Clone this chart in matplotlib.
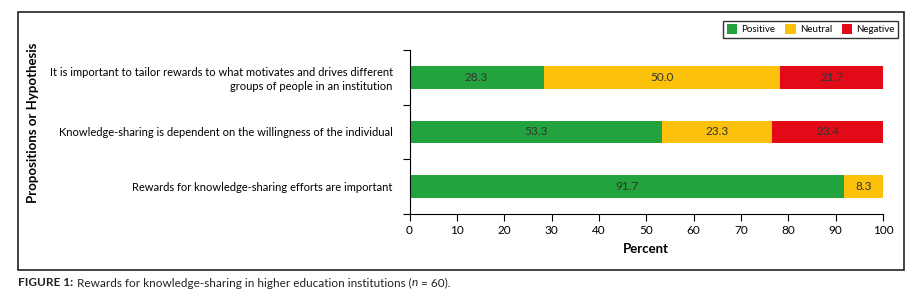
import matplotlib
matplotlib.use('Agg')
import matplotlib.pyplot as plt
from matplotlib.patches import Rectangle
import numpy as np

# data, listed top to bottom as in the chart
propositions = [
    'It is important to tailor rewards to what motivates and drives different\ngroups of people in an institution',
    'Knowledge-sharing is dependent on the willingness of the individual',
    'Rewards for knowledge-sharing efforts are important',
]
positive = [28.3, 53.3, 91.7]
neutral = [50.0, 23.3, 8.3]
negative = [21.7, 23.4, 0.0]
series_names = ['Positive', 'Neutral', 'Negative']
series_colors = ['#22A33E', '#FCC10A', '#E30A17']
x_ticks = [0, 10, 20, 30, 40, 50, 60, 70, 80, 90, 100]

plt.rcParams['font.family'] = ['Lato', 'DejaVu Sans']

W, H = 918, 306
fig = plt.figure(figsize=(W / 100, H / 100), dpi=100)
ax = fig.add_axes([409.5 / W, 1 - 214 / H, (883 - 409.5) / W, (214 - 50) / H])

y = np.arange(len(propositions))
left = np.zeros(len(propositions))
for name, vals, col in zip(series_names, [positive, neutral, negative], series_colors):
    vals = np.array(vals)
    ax.barh(y, vals, left=left, height=0.42, color=col, label=name)
    for yi, l, v in zip(y, left, vals):
        if v > 0:
            ax.text(l + v / 2, yi, f'{v:.1f}', ha='center', va='center',
                    fontsize=8.5, color='#333333')
    left += vals

ax.set_xlim(0, 100)
ax.set_ylim(2.5, -0.5)
ax.set_xticks(x_ticks)
ax.set_yticks([-0.5, 0.5, 1.5, 2.5])
ax.set_yticklabels([])
ax.set_yticks(y, minor=True)
ax.set_yticklabels(propositions, minor=True, fontsize=8, ha='right', linespacing=1.35)
ax.tick_params(axis='y', which='minor', length=0, pad=12)
ax.tick_params(axis='y', which='major', length=5, width=0.8)
ax.tick_params(axis='x', length=5, width=0.8, labelsize=8.5, pad=3)
for s in ['top', 'right']:
    ax.spines[s].set_visible(False)
ax.spines['left'].set_linewidth(0.8)
ax.spines['bottom'].set_linewidth(0.8)
ax.set_xlabel('Percent', fontsize=9.5, fontweight='bold', labelpad=5)

fig.text(33 / W, 1 - 123 / H, 'Propositions or Hypothesis', rotation=90,
         ha='center', va='center', fontsize=9.5, fontweight='bold')

leg = ax.legend(loc='upper right', bbox_to_anchor=(898 / W, 1 - 21 / H),
                bbox_transform=fig.transFigure, ncol=3, fontsize=7,
                frameon=True, fancybox=False, edgecolor='black',
                handlelength=1.1, handleheight=1.1, handletextpad=0.4,
                columnspacing=1.0, borderpad=0.35, borderaxespad=0)
leg.get_frame().set_linewidth(1.0)

fig.patches.append(Rectangle((18 / W, 1 - 270 / H), (904 - 18) / W, (270 - 12) / H,
                             transform=fig.transFigure, fill=False,
                             edgecolor='#222222', linewidth=1.2))

# caption: bold label, plain text, italic n
renderer = fig.canvas.get_renderer()
cx = 18
pieces = [('FIGURE 1:', 'bold', 'normal', 3.5),
          ('Rewards for knowledge-sharing in higher education institutions (', 'normal', 'normal', 0),
          ('n', 'normal', 'italic', 0.5),
          (' = 60).', 'normal', 'normal', 0)]
for txt, wt, st, gap in pieces:
    t = fig.text(cx / W, 1 - 283 / H, txt, ha='left', va='center', fontsize=8.5,
                 fontweight=wt, fontstyle=st, color='#222222')
    cx += t.get_window_extent(renderer).width + gap

fig.savefig('out.png', dpi=100)
